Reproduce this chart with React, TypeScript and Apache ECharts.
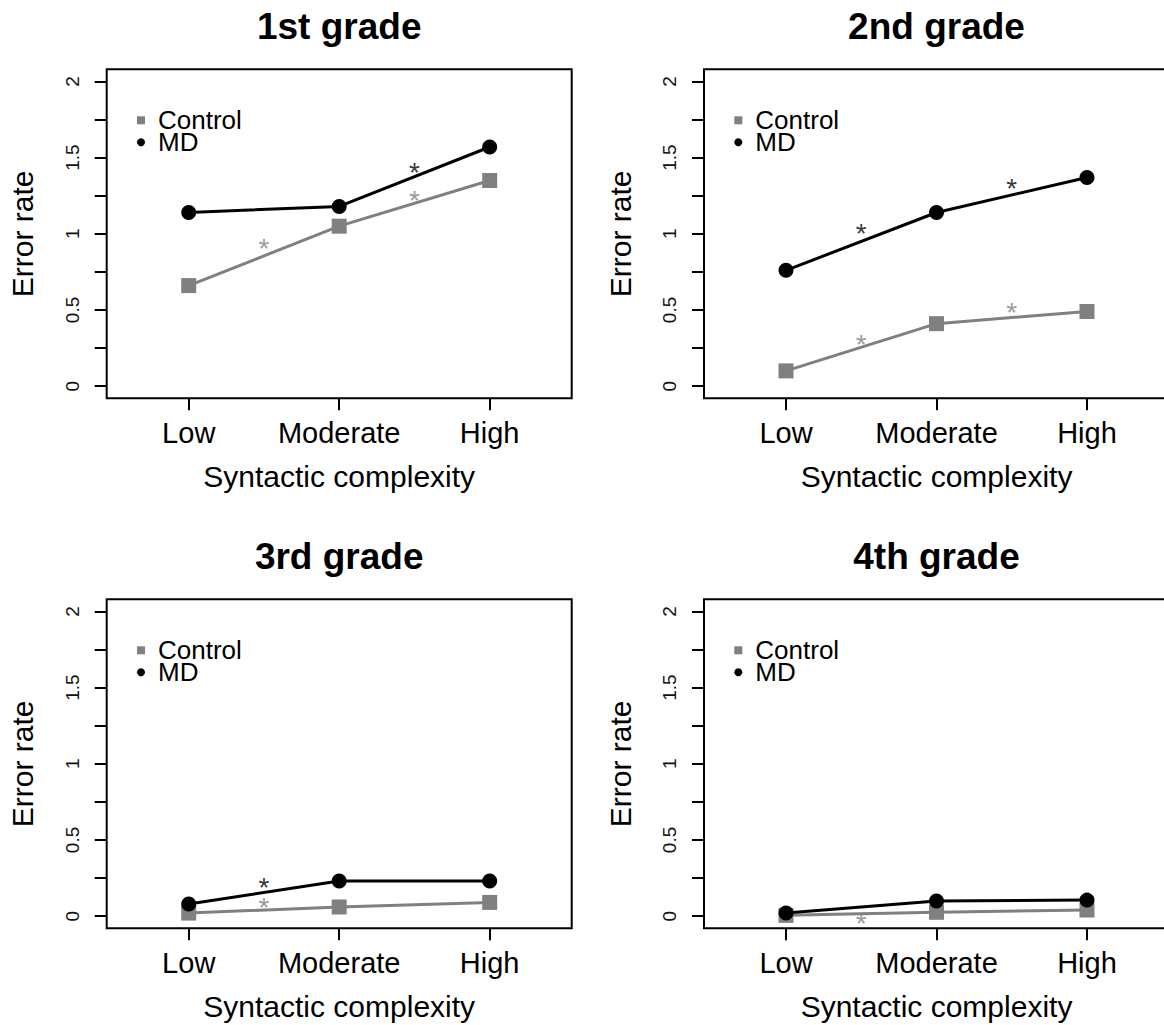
import React, { useEffect, useRef } from "react";
import * as echarts from "echarts";

const categories = ["Low", "Moderate", "High"];
const titles = ["1st grade", "2nd grade", "3rd grade", "4th grade"];
const yTickValues = [0, 0.25, 0.5, 0.75, 1, 1.25, 1.5, 1.75, 2];
const yLabelValues = [0, 0.5, 1, 1.5, 2];
const xTickValues = [1, 2, 3];

const controlG1 = [0.66, 1.05, 1.35];
const mdG1 = [1.14, 1.18, 1.57];
const controlG2 = [0.1, 0.41, 0.49];
const mdG2 = [0.76, 1.14, 1.37];
const controlG3 = [0.02, 0.06, 0.09];
const mdG3 = [0.08, 0.23, 0.23];
const controlG4 = [0.005, 0.025, 0.04];
const mdG4 = [0.02, 0.1, 0.105];

// significance stars: [x position, y position]
const mdStarsG1 = [[2.5, 1.44]];
const controlStarsG1 = [[1.5, 0.94], [2.5, 1.26]];
const mdStarsG2 = [[1.5, 1.04], [2.5, 1.34]];
const controlStarsG2 = [[1.5, 0.31], [2.5, 0.52]];
const mdStarsG3 = [[1.5, 0.225]];
const controlStarsG3 = [[1.5, 0.094]];
const mdStarsG4: number[][] = [];
const controlStarsG4 = [[1.5, -0.01]];

const panels = [
  { title: titles[0], control: controlG1, md: mdG1, cStars: controlStarsG1, mStars: mdStarsG1 },
  { title: titles[1], control: controlG2, md: mdG2, cStars: controlStarsG2, mStars: mdStarsG2 },
  { title: titles[2], control: controlG3, md: mdG3, cStars: controlStarsG3, mStars: mdStarsG3 },
  { title: titles[3], control: controlG4, md: mdG4, cStars: controlStarsG4, mStars: mdStarsG4 },
];

const FONT = "'Liberation Sans', Arial, Helvetica, sans-serif";
const GRAY = "#808080";
const gridLeft = [106.7, 704, 106.7, 704];
const gridTop = [69.3, 69.3, 599.3, 599.3];
const gridW = 465;
const gridH = 329;

export default function App() {
  const ref = useRef<HTMLDivElement>(null);
  useEffect(() => {
    if (!ref.current) return;
    const chart = echarts.init(ref.current, null, { renderer: "svg" });
    const grid: any[] = [];
    const xAxis: any[] = [];
    const yAxis: any[] = [];
    const series: any[] = [];
    const title: any[] = [];
    const legend: any[] = [];
    panels.forEach((p, i) => {
      grid.push({
        left: gridLeft[i],
        top: gridTop[i],
        width: gridW,
        height: gridH,
        show: true,
        borderColor: "#000",
        borderWidth: 2,
        backgroundColor: "transparent",
        containLabel: false,
        outerBoundsMode: "none",
      });
      xAxis.push({
        gridIndex: i,
        type: "value",
        min: 0.455,
        max: 3.545,
        axisLine: { show: false, onZero: false },
        axisTick: { show: true, length: 12, customValues: xTickValues, lineStyle: { width: 2, color: "#000" } },
        axisLabel: {
          customValues: xTickValues,
          formatter: (v: number) => categories[Math.round(v) - 1] ?? "",
          margin: 20,
          fontSize: 29,
          color: "#000",
          fontFamily: FONT,
        },
        splitLine: { show: false },
        name: "Syntactic complexity",
        nameLocation: "middle",
        nameGap: 63,
        nameTextStyle: { fontSize: 30, color: "#000", fontFamily: FONT },
      });
      yAxis.push({
        gridIndex: i,
        type: "value",
        min: -0.08,
        max: 2.08,
        axisLine: { show: false },
        axisTick: { show: true, length: 12, customValues: yTickValues, lineStyle: { width: 2, color: "#000" } },
        axisLabel: {
          customValues: yLabelValues,
          rotate: 90,
          margin: 25,
          fontSize: 19,
          color: "#111",
          fontFamily: FONT,
        },
        splitLine: { show: false },
        name: "Error rate",
        nameLocation: "middle",
        nameGap: 69,
        nameTextStyle: { fontSize: 30, color: "#000", fontFamily: FONT },
      });
      title.push({
        text: p.title,
        left: gridLeft[i] + gridW / 2,
        top: gridTop[i] - 61,
        textAlign: "center",
        padding: 0,
        textStyle: { fontSize: 37, fontWeight: "bold", color: "#000", fontFamily: FONT, lineHeight: 37 },
      });
      legend.push({
        left: gridLeft[i] + 30.3,
        top: gridTop[i] + 38,
        orient: "vertical",
        itemWidth: 8,
        itemHeight: 8,
        itemGap: -4,
        padding: 0,
        selectedMode: false,
        data: [
          { name: "Control", icon: "rect", itemStyle: { color: GRAY } },
          { name: "MD", icon: "circle", itemStyle: { color: "#000" } },
        ],
        textStyle: { fontSize: 26, lineHeight: 22, color: "#000", fontFamily: FONT, padding: [0, 0, 0, 8] },
      });
      series.push({
        name: "Control",
        type: "line",
        xAxisIndex: i,
        yAxisIndex: i,
        data: p.control.map((v, j) => [j + 1, v]),
        symbol: "rect",
        symbolSize: 15,
        lineStyle: { color: GRAY, width: 3 },
        itemStyle: { color: GRAY },
        z: 2,
      });
      series.push({
        name: "MD",
        type: "line",
        xAxisIndex: i,
        yAxisIndex: i,
        data: p.md.map((v, j) => [j + 1, v]),
        symbol: "circle",
        symbolSize: 15,
        lineStyle: { color: "#000", width: 3 },
        itemStyle: { color: "#000" },
        z: 3,
      });
      const starSeries = (data: number[][], color: string) => ({
        type: "scatter",
        xAxisIndex: i,
        yAxisIndex: i,
        data,
        symbolSize: 1,
        itemStyle: { color: "rgba(0,0,0,0)" },
        silent: true,
        z: 4,
        label: {
          show: true,
          position: "inside",
          formatter: "*",
          fontSize: 28,
          color,
          fontFamily: FONT,
          offset: [0, 6],
        },
      });
      series.push(starSeries(p.cStars, GRAY));
      series.push(starSeries(p.mStars, "#000"));
    });
    chart.setOption({
      animation: false,
      backgroundColor: "#fff",
      grid,
      xAxis,
      yAxis,
      title,
      legend,
      series,
    });
    return () => chart.dispose();
  }, []);
  return (
    <div
      ref={ref}
      style={{ position: "absolute", left: 0, top: 0, width: 1164, height: 1025 }}
    />
  );
}
